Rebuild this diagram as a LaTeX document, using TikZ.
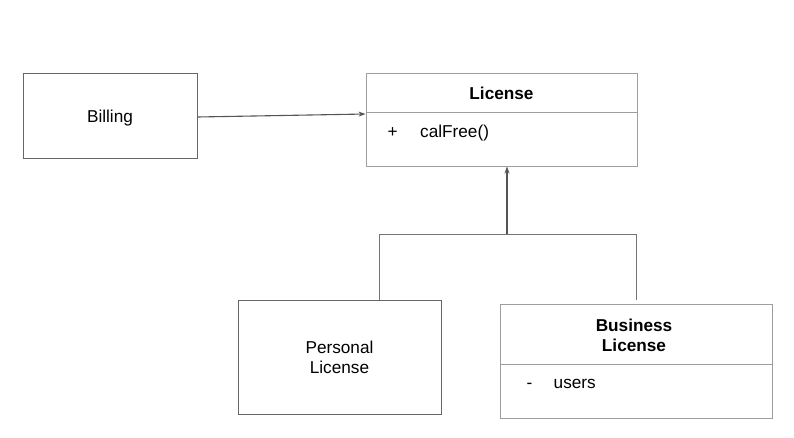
\documentclass[tikz,border=0pt]{standalone}
\usepackage{fontspec}
\setmainfont{Liberation Sans}
\usetikzlibrary{arrows.meta}
\definecolor{edgedark}{HTML}{666666}
\definecolor{edgelight}{HTML}{9E9E9E}
\definecolor{wire}{HTML}{555555}
\begin{document}
\begin{tikzpicture}[x=1pt,y=-1pt,
  every node/.style={font=\fontsize{17.2}{20}\selectfont, text=black},
  box/.style={draw=#1, line width=1pt, inner sep=0pt},
  txt/.style={inner sep=0pt, anchor=base},
  title/.style={txt, font=\fontsize{17.2}{20}\selectfont\bfseries},
  member/.style={inner sep=0pt, anchor=base west},
  arr/.style={draw=wire, line width=1.1pt, -{Stealth[length=7pt,width=5pt]}},
  conn/.style={draw=edgedark!90, line width=1pt}]
\useasboundingbox (0,0) rectangle (794,437);

% Billing
\node[box=edgedark, minimum width=174pt, minimum height=85pt] (billing) at (110,115.5) {};
\node[txt] (billname) at (110,122) {Billing};

% License with one operation
\node[box=edgelight, minimum width=271pt, minimum height=93pt] (license) at (501.5,119.5) {};
\draw[edgelight, line width=1pt] (license.west |- 0,112) -- (license.east |- 0,112);
\node[title] (licname) at (501.5,99.5) {License};
\node[member] (plus) at (387.5,137) {+};
\node[member] (calfree) at (420,137) {calFree()};

% Personal License
\node[box=edgedark, minimum width=203pt, minimum height=114pt] (personal) at (339.5,357) {};
\node[txt] (pername1) at (339.5,353.5) {Personal};
\node[txt] (pername2) at (339.5,373.5) {License};

% Business License with one attribute
\node[box=edgelight, minimum width=272pt, minimum height=114pt] (business) at (636,361) {};
\draw[edgelight, line width=1pt] (business.west |- 0,364) -- (business.east |- 0,364);
\node[title] (busname1) at (634,331) {Business};
\node[title] (busname2) at (634,351) {License};
\node[member] (minus) at (526.5,388) {-};
\node[member] (users) at (553.5,388) {users};

% association
\draw[arr] ([yshift=-1.5pt]billing.east) -- ([yshift=5.5pt]license.west);

% generalisation
\coordinate (junction) at (507,234);
\draw[conn] ([xshift=39.5pt]personal.north) |- (junction);
\draw[conn] ([yshift=4pt]business.north) |- (junction);
\draw[arr] (junction) -- (junction |- license.south);
\end{tikzpicture}
\end{document}
